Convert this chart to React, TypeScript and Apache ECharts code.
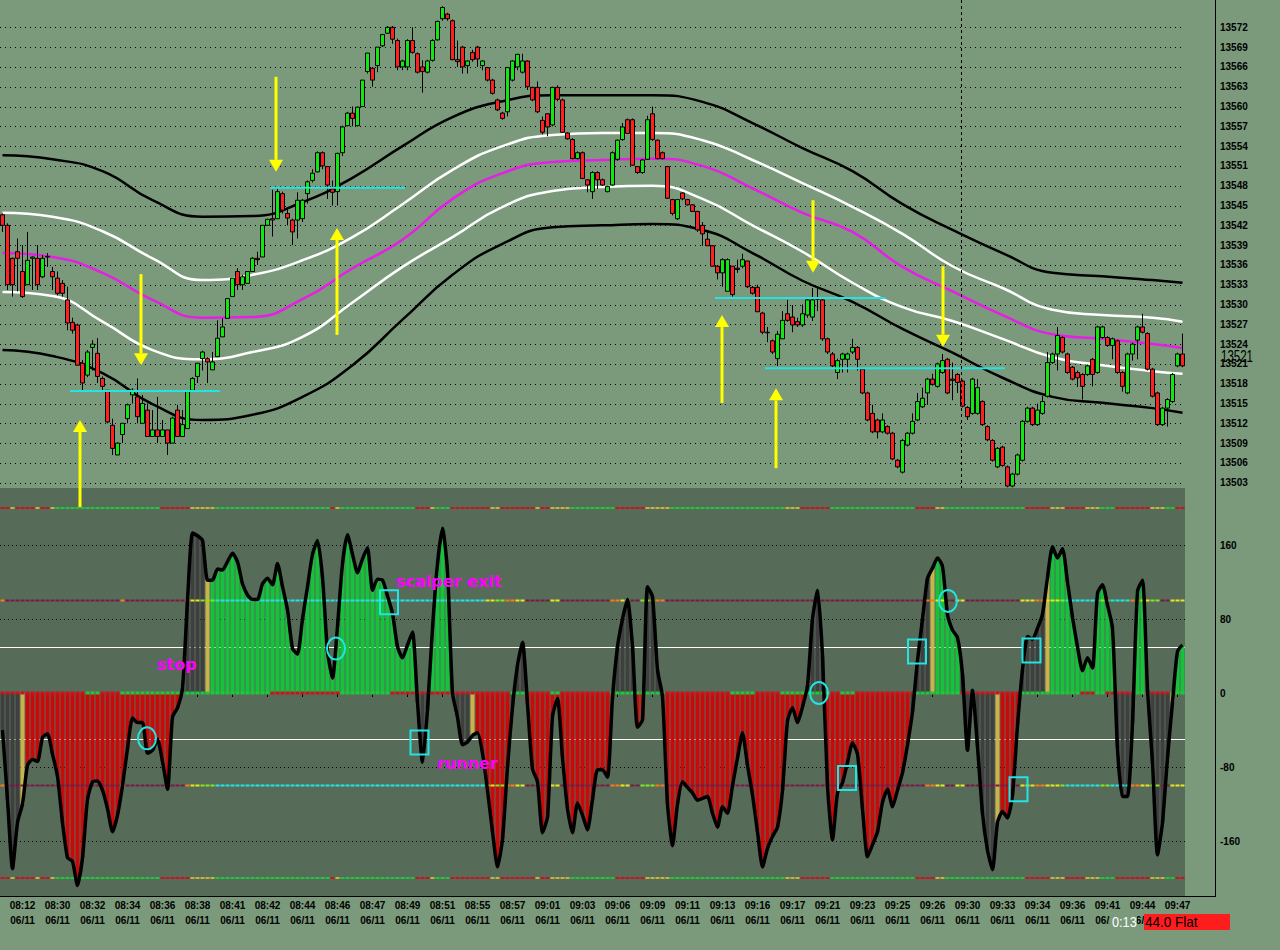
import React, { useEffect, useRef } from "react";
import * as echarts from "echarts";

// ---------- DATA ----------
const timeLabels = ["08:12","08:30","08:32","08:34","08:36","08:38","08:41","08:42","08:44","08:46","08:47","08:49","08:51","08:55","08:57","09:01","09:03","09:06","09:09","09:11","09:13","09:16","09:17","09:21","09:23","09:25","09:26","09:30","09:33","09:34","09:36","09:41","09:44","09:47"];
const dateLabel = "06/11";

const priceTicks = [13503,13506,13509,13512,13515,13518,13521,13524,13527,13530,13533,13536,13539,13542,13545,13548,13551,13554,13557,13560,13563,13566,13569,13572];
const oscTicks = [160, 80, 0, -80, -160];

// [open, close, low, high]
const ohlc: number[][] = [
[13543.6,13542.0,13541.0,13543.8],[13542.0,13533.0,13532.2,13542.3],[13537.0,13533.0,13531.2,13537.1],[13538.0,13537.0,13532.0,13540.0],[13535.0,13531.2,13531.0,13539.0],
[13533.0,13536.7,13533.0,13541.0],[13537.0,13537.2,13532.2,13537.3],[13537.0,13533.0,13532.2,13539.0],[13534.2,13537.0,13534.0,13537.5],[13537.3,13537.2,13535.7,13537.8],
[13535.0,13534.2,13532.2,13535.7],[13534.0,13531.7,13531.4,13535.0],[13533.2,13531.7,13531.2,13533.7],[13530.7,13527.2,13526.1,13532.7],[13527.3,13526.1,13525.6,13528.0],
[13526.9,13520.8,13520.8,13527.1],[13521.1,13518.1,13517.0,13521.6],[13519.3,13522.8,13519.0,13523.1],[13523.5,13524.0,13520.0,13524.6],[13522.6,13519.1,13518.1,13524.9],
[13518.8,13517.6,13517.0,13519.1],[13517.0,13512.2,13512.0,13517.0],[13511.7,13508.2,13507.2,13512.7],[13507.2,13509.0,13507.2,13509.1],[13510.3,13512.0,13509.0,13512.0],
[13512.7,13514.8,13512.0,13515.0],[13516.3,13517.0,13515.0,13517.3],[13516.0,13513.0,13512.0,13518.8],[13512.0,13515.0,13512.0,13516.3],[13514.0,13510.0,13510.0,13515.0],
[13510.0,13511.0,13510.0,13514.0],[13511.0,13510.0,13509.0,13516.0],[13510.0,13511.0,13510.0,13512.5],[13511.0,13509.0,13507.2,13511.0],[13509.0,13512.8,13509.0,13513.0],
[13514.0,13510.0,13510.0,13514.8],[13510.0,13511.8,13510.0,13514.0],[13511.2,13516.8,13511.2,13517.0],[13517.0,13518.8,13517.0,13519.0],[13519.1,13521.1,13518.1,13521.1],
[13521.8,13522.8,13520.0,13523.0],[13521.8,13521.3,13518.1,13522.0],[13520.1,13521.3,13520.1,13522.8],[13522.1,13524.9,13522.1,13527.6],[13525.1,13526.6,13525.1,13527.9],
[13527.9,13530.9,13527.9,13531.0],[13531.2,13534.0,13531.2,13534.0],[13535.0,13533.0,13532.2,13535.5],[13533.0,13534.2,13532.2,13534.5],[13533.2,13535.0,13533.2,13535.0],
[13535.0,13537.0,13535.0,13537.2],[13537.0,13536.8,13536.0,13538.0],[13537.2,13542.0,13537.2,13542.0],[13542.0,13542.9,13542.0,13543.0],[13543.0,13542.8,13540.3,13547.4],
[13543.0,13547.1,13543.0,13547.6],[13546.8,13544.3,13543.8,13547.1],[13543.8,13543.1,13542.0,13544.5],[13542.8,13541.0,13539.0,13543.0],[13542.8,13545.8,13540.0,13547.0],
[13543.0,13545.8,13542.5,13546.0],[13546.8,13548.6,13545.3,13548.8],[13548.8,13549.9,13548.5,13550.5],[13550.1,13553.0,13550.0,13553.2],[13553.0,13551.0,13550.5,13553.2],
[13550.9,13548.1,13546.0,13551.0],[13547.5,13547.0,13545.0,13548.8],[13547.1,13552.9,13545.0,13553.0],[13553.0,13556.9,13552.5,13557.1],[13557.1,13559.0,13557.0,13559.2],
[13559.0,13558.2,13557.0,13560.0],[13557.1,13559.9,13557.0,13560.0],[13560.0,13564.0,13560.0,13564.0],[13565.3,13568.1,13565.0,13568.1],[13565.8,13564.0,13563.0,13566.0],
[13566.2,13569.0,13565.2,13569.0],[13569.2,13570.9,13569.0,13571.0],[13571.1,13572.0,13571.0,13572.2],[13572.0,13570.2,13569.5,13572.2],[13570.0,13566.0,13565.5,13570.3],
[13566.0,13566.9,13565.5,13567.1],[13566.0,13570.0,13565.5,13570.2],[13570.0,13568.2,13568.0,13572.0],[13568.0,13565.2,13565.0,13568.2],[13566.0,13565.3,13562.1,13567.0],
[13565.2,13566.9,13565.0,13567.1],[13567.0,13570.0,13566.8,13570.2],[13570.1,13572.9,13570.0,13573.0],[13573.3,13575.0,13573.0,13575.2],[13574.0,13573.3,13573.0,13574.2],
[13573.0,13567.1,13567.0,13573.2],[13567.1,13566.8,13566.0,13570.0],[13569.0,13566.0,13565.0,13569.2],[13566.2,13566.9,13565.0,13567.0],[13568.2,13567.1,13566.8,13568.6],
[13569.0,13567.2,13566.0,13569.2],[13566.2,13566.9,13565.5,13567.0],[13565.9,13564.0,13563.8,13566.0],[13564.0,13562.0,13561.8,13564.2],[13561.0,13559.5,13559.3,13561.2],
[13559.0,13558.2,13558.0,13559.2],[13559.2,13565.9,13558.5,13566.0],[13564.0,13566.9,13563.8,13567.0],[13566.0,13567.9,13565.5,13568.0],[13565.2,13566.9,13565.0,13568.0],
[13566.9,13563.0,13562.5,13567.0],[13562.9,13561.0,13560.8,13563.0],[13562.9,13559.2,13559.0,13563.8],[13557.9,13556.1,13555.8,13558.5],[13558.9,13556.9,13555.5,13559.0],
[13557.2,13562.9,13557.0,13563.0],[13562.9,13561.1,13560.8,13563.2],[13561.0,13556.1,13556.0,13561.2],[13556.0,13555.1,13555.0,13556.1],[13555.0,13552.1,13552.0,13555.2],
[13552.1,13553.0,13552.0,13553.2],[13553.0,13549.1,13549.0,13553.2],[13548.9,13548.1,13547.0,13549.0],[13547.1,13550.0,13546.0,13550.2],[13550.0,13548.9,13547.5,13550.2],
[13548.9,13548.1,13548.0,13549.1],[13547.1,13547.9,13547.0,13548.0],[13548.1,13553.0,13548.0,13553.2],[13552.0,13554.9,13551.8,13555.0],[13555.0,13556.9,13554.8,13557.5],
[13558.0,13555.9,13555.8,13558.2],[13558.0,13551.1,13551.0,13558.2],[13550.9,13550.0,13549.8,13551.0],[13550.0,13551.9,13549.8,13552.0],[13552.0,13558.0,13551.9,13558.6],
[13558.9,13555.0,13554.8,13560.0],[13554.9,13552.1,13552.0,13555.0],[13553.0,13552.1,13552.0,13553.2],[13550.9,13546.1,13546.0,13551.0],[13545.9,13543.8,13543.5,13546.0],
[13543.0,13545.9,13542.8,13546.0],[13546.9,13546.0,13545.8,13547.0],[13545.9,13545.1,13545.0,13546.0],[13545.1,13544.1,13544.0,13545.2],[13544.1,13541.3,13541.0,13544.2],
[13542.0,13540.7,13538.9,13542.5],[13539.9,13538.9,13538.9,13541.0],[13538.9,13535.8,13535.8,13539.0],[13535.8,13534.8,13533.8,13536.0],[13534.8,13536.8,13532.7,13537.0],
[13532.0,13536.8,13532.0,13537.0],[13535.8,13531.5,13531.2,13535.8],[13535.5,13535.3,13534.8,13536.8],[13535.8,13536.8,13535.5,13537.7],[13536.6,13532.7,13532.5,13536.6],
[13532.6,13531.7,13531.5,13532.8],[13532.6,13528.9,13528.9,13533.0],[13528.7,13525.8,13525.5,13528.9],[13525.8,13525.7,13524.3,13526.6],[13524.5,13522.8,13522.5,13524.7],
[13521.8,13525.5,13520.7,13526.0],[13524.8,13527.6,13524.8,13529.0],[13528.6,13527.6,13527.4,13530.7],[13528.1,13526.9,13525.8,13529.9],[13527.4,13526.9,13526.6,13528.0],
[13526.9,13528.6,13526.6,13530.0],[13528.4,13530.7,13528.0,13531.0],[13528.1,13530.7,13527.5,13532.5],[13530.8,13530.9,13529.0,13532.7],[13530.7,13524.8,13524.5,13531.0],
[13524.8,13522.8,13522.5,13525.0],[13522.5,13520.7,13520.5,13522.8],[13519.7,13521.5,13518.7,13521.8],[13521.7,13522.5,13519.7,13522.7],[13521.7,13522.5,13519.7,13522.7],
[13522.8,13523.5,13522.5,13524.8],[13523.5,13521.7,13520.0,13523.7],[13520.2,13516.6,13516.4,13520.4],[13516.6,13512.5,13512.3,13516.8],[13513.5,13510.7,13510.5,13514.8],
[13512.5,13510.7,13509.7,13512.7],[13510.7,13512.5,13510.5,13513.5],[13511.5,13510.5,13510.3,13511.7],[13510.5,13506.6,13506.4,13510.7],[13506.4,13505.4,13505.2,13506.6],
[13504.6,13509.4,13504.4,13509.6],[13508.7,13510.5,13508.5,13510.7],[13510.5,13512.3,13510.3,13513.5],[13512.5,13515.3,13512.3,13516.6],[13514.5,13515.8,13514.3,13517.4],
[13516.6,13518.7,13514.8,13518.9],[13518.7,13517.9,13517.7,13519.5],[13517.6,13521.0,13517.4,13521.2],[13519.7,13521.5,13519.5,13522.5],[13521.7,13516.6,13516.4,13521.9],
[13518.7,13518.5,13515.5,13521.2],[13519.4,13518.2,13516.6,13519.6],[13518.4,13514.6,13514.4,13518.6],[13514.4,13513.0,13512.5,13514.6],[13513.5,13518.7,13513.3,13518.9],
[13513.5,13517.4,13513.3,13518.7],[13515.3,13511.8,13511.6,13515.5],[13511.5,13509.5,13509.3,13511.7],[13509.4,13506.4,13506.2,13509.6],[13505.4,13508.2,13505.2,13508.4],
[13508.4,13505.6,13505.4,13508.6],[13505.4,13502.5,13502.3,13505.6],[13502.5,13504.3,13502.3,13504.5],[13504.3,13507.2,13504.1,13507.4],[13506.4,13512.3,13506.2,13512.5],
[13512.3,13514.3,13512.1,13514.5],[13514.3,13511.8,13511.6,13514.5],[13511.8,13514.0,13511.6,13515.0],[13513.5,13515.3,13513.3,13516.1],[13516.1,13521.2,13515.9,13522.8],
[13521.2,13522.5,13521.0,13522.7],[13522.5,13525.3,13520.0,13526.6],[13525.0,13522.8,13522.6,13525.2],[13522.5,13519.7,13519.5,13522.7],[13520.5,13518.7,13518.5,13520.7],
[13519.7,13518.9,13517.5,13520.0],[13519.4,13517.6,13515.6,13519.6],[13519.4,13520.7,13519.2,13520.9],[13521.7,13519.4,13517.6,13521.9],[13519.7,13526.6,13519.5,13526.8],
[13525.0,13526.6,13524.8,13526.8],[13525.0,13523.8,13523.6,13525.2],[13523.8,13524.8,13521.7,13525.0],[13524.5,13519.7,13519.5,13524.7],[13519.7,13517.6,13516.8,13519.9],
[13516.6,13522.5,13516.4,13522.7],[13522.5,13524.0,13521.5,13524.2],[13524.6,13526.6,13521.7,13526.8],[13526.6,13525.8,13525.6,13528.6],[13525.6,13520.2,13520.0,13525.8],
[13520.2,13516.1,13515.9,13520.4],[13516.6,13511.8,13511.6,13516.8],[13511.8,13514.3,13511.6,13514.5],[13514.3,13515.6,13511.5,13515.8],[13515.3,13519.4,13515.1,13519.6],
[13520.7,13522.5,13520.5,13522.7],[13522.5,13520.7,13520.5,13525.6]
];

const oscValues = [
-40,-115,-190,-140,-120,-78,-72,-74,-48,-44,
-66,-90,-140,-178,-182,-208,-178,-115,-96,-95,
-105,-125,-150,-132,-100,-60,-27,-32,-32,-65,
-62,-50,-74,-104,-26,-16,5,100,173,170,
165,122,122,134,133,142,151,142,118,106,
101,101,118,124,117,140,115,90,48,42,
80,115,150,165,125,45,16,72,140,171,
150,130,145,157,111,123,122,105,86,50,
38,52,66,-10,-75,-18,70,140,178,132,
0,-26,-56,-53,-46,-43,-65,-105,-150,-188,
-158,-80,-15,30,55,-12,-82,-96,-151,-134,
-25,-6,-70,-125,-151,-119,-132,-148,-115,-83,
-83,-91,-5,50,80,101,50,-37,-29,115,
104,25,-4,-120,-165,-120,-96,-102,-108,-116,
-114,-112,-130,-145,-123,-130,-100,-70,-43,-78,
-110,-150,-188,-168,-155,-145,-105,-30,-16,-32,
-15,8,80,111,40,-100,-159,-108,-97,-75,
-54,-66,-125,-177,-164,-150,-118,-104,-123,-105,
-86,-56,-20,35,80,124,135,146,137,85,
68,60,20,-62,3,-58,-130,-170,-191,-140,
-128,-135,-110,-35,25,61,58,70,85,125,
158,146,156,120,82,50,24,38,27,108,
117,95,70,-60,-112,-112,-32,110,122,3,
-75,-175,-140,-70,-10,45,52
];

// histogram colour states: G trend-up, R trend-down, D neutral, Y transition
const histRuns: [number, number, string][] = [
[0,3,"D"],[4,4,"Y"],[5,35,"R"],[36,40,"D"],[41,41,"Y"],[42,82,"G"],[83,85,"D"],[86,89,"G"],[90,93,"D"],[94,94,"Y"],
[95,101,"R"],[102,104,"D"],[105,122,"R"],[123,126,"D"],[127,128,"R"],[129,132,"D"],[133,160,"R"],[161,164,"D"],[165,181,"R"],
[182,185,"D"],[186,186,"Y"],[187,191,"G"],[192,198,"D"],[199,199,"Y"],[200,203,"R"],[204,208,"D"],[209,209,"Y"],[210,222,"G"],
[223,226,"D"],[227,228,"G"],[229,233,"D"],[234,234,"Y"],[235,236,"G"]
];

// state strips on the oscillator levels
const band200Runs: [number, number, string][] = [
[0,1,"r"],[2,2,"y"],[3,6,"r"],[7,7,"y"],[8,9,"r"],[10,10,"y"],[11,31,"g"],[32,37,"r"],[38,42,"y"],[43,65,"g"],[66,66,"r"],[67,67,"y"],
[68,82,"g"],[83,85,"r"],[86,86,"y"],[87,89,"g"],[90,97,"r"],[98,99,"y"],[100,106,"r"],[107,107,"y"],[108,109,"r"],[110,113,"y"],
[114,122,"g"],[123,128,"r"],[129,133,"y"],[134,156,"g"],[157,159,"y"],[160,165,"r"],[166,182,"g"],[183,186,"r"],[187,188,"y"],
[189,204,"g"],[205,209,"r"],[210,212,"y"],[213,216,"r"],[217,219,"y"],[220,222,"g"],[223,229,"r"],[230,232,"y"],[233,234,"g"],[235,236,"r"]
];
const zeroRuns: [number, number, string][] = [
[0,16,"r"],[17,19,"g"],[20,23,"r"],[24,53,"g"],[54,67,"r"],[68,77,"g"],[78,101,"r"],[102,104,"g"],[105,109,"r"],[110,111,"g"],
[112,121,"r"],[122,132,"g"],[133,145,"r"],[146,150,"g"],[151,155,"r"],[156,165,"g"],[166,167,"r"],[168,170,"g"],[171,182,"r"],
[183,191,"g"],[192,193,"r"],[194,194,"g"],[195,203,"r"],[204,215,"g"],[216,218,"r"],[219,220,"g"],[221,226,"r"],[227,228,"g"],
[229,233,"r"],[234,236,"g"]
];
const band100Runs: [number, number, string][] = [
[0,0,"o"],[1,23,"m"],[24,24,"o"],[25,36,"m"],[37,37,"o"],[38,39,"Y"],[40,42,"L"],[43,96,"c"],[97,98,"Y"],[99,100,"L"],[101,102,"o"],
[103,104,"Y"],[105,109,"m"],[110,111,"Y"],[112,121,"m"],[122,123,"o"],[124,125,"Y"],[126,127,"m"],[128,130,"L"],[131,132,"o"],
[133,184,"m"],[185,186,"o"],[187,188,"Y"],[189,190,"m"],[191,192,"Y"],[193,203,"m"],[204,206,"Y"],[207,208,"o"],[209,211,"Y"],
[212,212,"L"],[213,219,"c"],[220,221,"L"],[222,225,"c"],[226,227,"o"],[228,229,"Y"],[230,231,"L"],[232,233,"m"],[234,236,"Y"]
];

// envelope bands sampled at these bar indices
const bandIdx = [0,10,20,30,40,50,60,70,80,90,100,110,120,130,140,150,160,170,180,190,200,210,220,230,236];
const bandUpperOuter = [13552.6,13552.0,13550.2,13545.8,13543.3,13543.4,13545.5,13549.2,13554.0,13558.4,13560.8,13561.7,13561.7,13561.7,13560.7,13557.5,13553.7,13550.2,13545.2,13541.3,13537.8,13534.8,13534.3,13533.7,13533.3];
const bandUpperInner = [13543.9,13543.3,13541.1,13537.0,13533.7,13534.5,13536.7,13540.2,13545.2,13550.4,13554.0,13555.7,13556.0,13556.0,13554.9,13551.9,13548.4,13544.8,13540.7,13535.8,13532.5,13529.2,13528.4,13528.0,13527.4];
const bandMid = [13537.8,13537.2,13534.8,13530.7,13528.0,13528.1,13530.8,13535.5,13539.8,13546.0,13549.9,13551.6,13551.9,13552.1,13551.0,13547.6,13543.9,13541.0,13535.7,13532.0,13528.4,13525.5,13524.8,13524.0,13523.4];
const bandLowerInner = [13531.9,13531.3,13527.4,13523.1,13521.7,13522.8,13525.1,13530.3,13535.7,13540.2,13544.8,13547.2,13547.8,13548.0,13546.0,13542.0,13538.0,13533.3,13529.6,13527.5,13524.8,13522.0,13520.8,13519.9,13519.5];
const bandLowerOuter = [13523.1,13522.2,13519.6,13514.9,13512.5,13513.3,13516.0,13520.8,13527.7,13534.5,13539.2,13541.7,13542.0,13542.2,13541.3,13537.8,13533.6,13530.4,13526.3,13522.7,13518.9,13516.0,13515.1,13514.3,13513.6];

// [startBar, endBar, price]
const cyanLevels = [[14,43,13516.9],[54,80,13547.7],[143,176,13531.0],[153,200,13520.35]];
// [barPosition, fromPrice, toPrice]
const arrows = [
[27.7,13534.6,13520.8],[54.7,13564.5,13550.1],[162.1,13545.8,13534.8],[188.1,13535.8,13523.6],
[15.5,13499.3,13512.5],[66.9,13525.4,13541.6],[143.9,13515.1,13528.4],[154.7,13505.2,13517.3]
];
const cursorBar = 191.6;
const lastPriceText = "13521";

const oscCircles = [[28.9,-49],[66.7,48],[163.3,0],[189.1,99.5]];
const oscBoxes = [[77.3,98],[83.4,-53.5],[182.9,45],[168.9,-92],[203.2,-104],[205.8,46]];
const oscNoteTexts = ["scalper exit","stop","runner"];
const oscNotePos = [[78.7,121],[30.9,31],[86.9,-76]];
const oscWhiteLevels = [50,-50];
const oscDottedLevels = [160,80,-80,-160];
const stripLevels200 = [200,-200];
const stripLevels100 = [100,-100];

const statusClock = "0:13";
const statusText = "44.0 Flat";

// ---------- STYLE ----------
const PAGE_BG = "#7b9a7b";
const PANEL_BG = "#566c58";
const histPalette: Record<string,string> = { G: "#16c23c", R: "#c80a0a", D: "#3f3f3f", Y: "#c8b44a" };
const stripLetters = "rgymcoYL";
const stripPalette = ["#c8141e","#1ec83c","#c8b43c","#7a1844","#22e4e4","#ff7814","#e6e61e","#86e61e"];
const AXFONT = '"Liberation Sans",Arial,sans-serif';
const PANEL_TOP = 488;
const PANEL_BOTTOM = 896;

const N = ohlc.length;
const categories = ohlc.map((_, i) => String(i));

function runsToCodes(runs: [number, number, string][]) {
  const out: string[] = new Array(N).fill("r");
  runs.forEach(([s, e, c]) => { for (let i = s; i <= e; i++) out[i] = c; });
  return out;
}
const split = (x: number) => [Math.floor(x), x - Math.floor(x)];

function buildOption() {
  const histCodes = runsToCodes(histRuns);
  const c200 = runsToCodes(band200Runs);
  const c0 = runsToCodes(zeroRuns);
  const c100 = runsToCodes(band100Runs);
  const stripData: number[][] = [];
  for (let i = 0; i < N; i++) {
    stripLevels200.forEach((lv) => stripData.push([i, lv, stripLetters.indexOf(c200[i])]));
    stripLevels100.forEach((lv) => stripData.push([i, lv, stripLetters.indexOf(c100[i])]));
    stripData.push([i, 0, stripLetters.indexOf(c0[i])]);
  }

  const bandSeries = (data: number[], color: string, width: number) => ({
    type: "line", xAxisIndex: 0, yAxisIndex: 0, z: 2, silent: true,
    data: bandIdx.map((x, k) => [x, data[k]]),
    smooth: 0.5, symbol: "none", lineStyle: { color, width },
  });

  const levelLine = (dash: number[] | null, color: string) => (params: any, api: any) => {
    const y = Math.round(api.coord([0, api.value(1)])[1]) + 0.5;
    const cs = params.coordSys;
    return { type: "line", shape: { x1: cs.x, y1: y, x2: cs.x + cs.width, y2: y },
      style: { stroke: color, lineWidth: 1, lineDash: dash || undefined } };
  };

  const lowerH = PANEL_BOTTOM - PANEL_TOP;
  const pxPerUnit = 0.925;
  const oscMax = (693 - PANEL_TOP) / pxPerUnit;
  const oscMin = -(PANEL_BOTTOM - 693) / pxPerUnit;

  return {
    animation: false,
    backgroundColor: PAGE_BG,
    grid: [
      { left: 0, top: 0, width: 1185, height: 502.5 },
      { left: 0, top: PANEL_TOP, width: 1185, height: lowerH },
    ],
    xAxis: [
      { type: "category", gridIndex: 0, data: categories, boundaryGap: true, show: false },
      { type: "category", gridIndex: 1, data: categories, boundaryGap: true,
        axisLine: { show: false },
        axisTick: { show: true, length: 4, alignWithLabel: true, interval: (i: number) => i % 7 === 4, lineStyle: { color: "#000" } },
        axisLabel: {
          interval: (i: number) => i % 7 === 4, hideOverlap: false,
          formatter: (_v: string, i: number) => { const k = (i - 4) / 7; return timeLabels[k] ? timeLabels[k] + "\n" + dateLabel : ""; },
          color: "#000", fontFamily: AXFONT, fontWeight: "bold", fontSize: 10, lineHeight: 15, margin: 2,
        },
        splitLine: { show: false } },
    ],
    yAxis: [
      { type: "value", gridIndex: 0, position: "right", offset: 30, min: 13500, max: 13576.14,
        axisLine: { show: false }, axisTick: { show: false }, splitLine: { show: false },
        axisLabel: { customValues: priceTicks, formatter: (v: number) => String(v), color: "#000", fontFamily: AXFONT, fontWeight: "bold", fontSize: 10, margin: 5 } },
      { type: "value", gridIndex: 1, position: "right", offset: 30, min: oscMin, max: oscMax,
        axisLine: { show: false }, axisTick: { show: false }, splitLine: { show: false },
        axisLabel: { customValues: oscTicks, formatter: (v: number) => String(v), color: "#000", fontFamily: AXFONT, fontWeight: "bold", fontSize: 10, margin: 5 } },
    ],
    graphic: { elements: [
      { type: "rect", silent: true, z: -10, shape: { x: 0, y: PANEL_TOP, width: 1185, height: lowerH }, style: { fill: PANEL_BG } },
      { type: "line", silent: true, z: 50, shape: { x1: 1215.5, y1: 0, x2: 1215.5, y2: PANEL_BOTTOM + 1 }, style: { stroke: "#000", lineWidth: 1 } },
      { type: "line", silent: true, z: 50, shape: { x1: 0, y1: PANEL_BOTTOM + 0.5, x2: 1215.5, y2: PANEL_BOTTOM + 0.5 }, style: { stroke: "#000", lineWidth: 1 } },
      { type: "rect", silent: true, z: 60, shape: { x: 1110, y: 912, width: 27, height: 20 }, style: { fill: PAGE_BG } },
      { type: "text", silent: true, z: 61, x: 1112, y: 922, scaleX: 0.85, style: { text: statusClock, fill: "#fff", fontFamily: AXFONT, fontSize: 15, verticalAlign: "middle" } },
      { type: "rect", silent: true, z: 60, shape: { x: 1144, y: 914, width: 86, height: 16 }, style: { fill: "#ff1c1c" } },
      { type: "text", silent: true, z: 61, x: 1145, y: 922, scaleX: 0.9, style: { text: statusText, fill: "#000", fontFamily: AXFONT, fontSize: 15, verticalAlign: "middle" } },
    ] },
    series: [
      // price grid dotted lines
      { type: "custom", xAxisIndex: 0, yAxisIndex: 0, z: 1, silent: true,
        data: priceTicks.map((v) => [0, v]), renderItem: levelLine([1, 4], "#000") },
      bandSeries(bandUpperOuter, "#000000", 2.5),
      bandSeries(bandLowerOuter, "#000000", 2.5),
      bandSeries(bandUpperInner, "#ffffff", 2.5),
      bandSeries(bandLowerInner, "#ffffff", 2.5),
      bandSeries(bandMid, "#e61ee6", 2.5),
      { type: "candlestick", xAxisIndex: 0, yAxisIndex: 0, z: 3, barWidth: 4, data: ohlc,
        itemStyle: { color: "#14e614", color0: "#ff2020", borderColor: "#000", borderColor0: "#000", borderColorDoji: "#000", borderWidth: 1 } },
      // cyan levels
      { type: "custom", xAxisIndex: 0, yAxisIndex: 0, z: 4, silent: true, encode: { x: 0, y: 2 },
        data: cyanLevels,
        renderItem: (_p: any, api: any) => {
          const bw = api.size([1, 0])[0];
          const a = api.coord([api.value(0), api.value(2)]);
          const b = api.coord([api.value(1), api.value(2)]);
          return { type: "line", shape: { x1: a[0] - bw / 2, y1: a[1], x2: b[0] + bw / 2, y2: b[1] }, style: { stroke: "#22e4e4", lineWidth: 2 } };
        } },
      // cursor line
      { type: "custom", xAxisIndex: 0, yAxisIndex: 0, z: 4, silent: true, encode: { x: 0, y: 2 },
        data: [[...split(cursorBar), 13540]],
        renderItem: (params: any, api: any) => {
          const bw = api.size([1, 0])[0];
          const x = Math.round(api.coord([api.value(0), 13540])[0] + api.value(1) * bw) + 0.5;
          return { type: "line", shape: { x1: x, y1: params.coordSys.y, x2: x, y2: PANEL_TOP }, style: { stroke: "#000", lineWidth: 1, lineDash: [3, 3] } };
        } },
      // yellow arrows
      { type: "custom", xAxisIndex: 0, yAxisIndex: 0, z: 6, silent: true, clip: false, encode: { x: 0, y: 2 },
        data: arrows.map(([x, p1, p2]) => [...split(x), p1, p2]),
        renderItem: (_p: any, api: any) => {
          const bw = api.size([1, 0])[0];
          const a = api.coord([api.value(0), api.value(2)]);
          const b = api.coord([api.value(0), api.value(3)]);
          const x = a[0] + api.value(1) * bw;
          const dir = b[1] > a[1] ? 1 : -1;
          const hl = 12, hw = 7;
          return { type: "group", children: [
            { type: "line", shape: { x1: x, y1: a[1], x2: x, y2: b[1] - dir * hl }, style: { stroke: "#ffff00", lineWidth: 3 } },
            { type: "polygon", shape: { points: [[x - hw, b[1] - dir * hl], [x + hw, b[1] - dir * hl], [x, b[1]]] }, style: { fill: "#ffff00" } },
          ] };
        } },
      // last price tag
      { type: "custom", xAxisIndex: 0, yAxisIndex: 0, z: 6, silent: true, clip: false,
        data: [[N - 1, ohlc[N - 1][1]]],
        renderItem: (params: any, api: any) => {
          const p = api.coord([api.value(0), api.value(1)]);
          const cs = params.coordSys;
          return { type: "text", x: cs.x + cs.width + 36, y: p[1] - 10, scaleX: 0.72,
            style: { text: lastPriceText, fill: "#000", fontFamily: AXFONT, fontSize: 16, verticalAlign: "middle" } };
        } },
      // oscillator level lines
      { type: "custom", xAxisIndex: 1, yAxisIndex: 1, z: 1, silent: true,
        data: oscDottedLevels.map((v) => [0, v]), renderItem: levelLine([1, 3], "#000") },
      { type: "custom", xAxisIndex: 1, yAxisIndex: 1, z: 1, silent: true,
        data: oscWhiteLevels.map((v) => [0, v]), renderItem: levelLine(null, "#ffffff") },
      // histogram
      { type: "bar", xAxisIndex: 1, yAxisIndex: 1, z: 2, silent: true, barWidth: 4,
        data: oscValues.map((v, i) => ({ value: v, itemStyle: { color: histPalette[histCodes[i]] } })) },
      // state strips
      { type: "custom", xAxisIndex: 1, yAxisIndex: 1, z: 3, silent: true, data: stripData,
        renderItem: (_p: any, api: any) => {
          const lv = api.value(1);
          const p = api.coord([api.value(0), lv]);
          const bw = api.size([1, 0])[0];
          const h = lv === 0 ? 3 : 2;
          return { type: "rect", shape: { x: p[0] - bw * 0.4, y: p[1] - h / 2, width: bw * 0.8, height: h }, style: { fill: stripPalette[api.value(2)] } };
        } },
      // oscillator line
      { type: "line", xAxisIndex: 1, yAxisIndex: 1, z: 4, silent: true, data: oscValues, symbol: "none",
        smooth: 0.2, lineStyle: { color: "#000", width: 3.5 } },
      // circles
      { type: "custom", xAxisIndex: 1, yAxisIndex: 1, z: 5, silent: true, encode: { x: 0, y: 2 },
        data: oscCircles.map(([x, v]) => [...split(x), v]),
        renderItem: (_p: any, api: any) => {
          const bw = api.size([1, 0])[0];
          const p = api.coord([api.value(0), api.value(2)]);
          return { type: "ellipse", shape: { cx: p[0] + api.value(1) * bw, cy: p[1], rx: 9, ry: 11 }, style: { fill: "none", stroke: "#22e4e4", lineWidth: 2 } };
        } },
      // boxes
      { type: "custom", xAxisIndex: 1, yAxisIndex: 1, z: 5, silent: true, encode: { x: 0, y: 2 },
        data: oscBoxes.map(([x, v]) => [...split(x), v]),
        renderItem: (_p: any, api: any) => {
          const bw = api.size([1, 0])[0];
          const p = api.coord([api.value(0), api.value(2)]);
          const cx = p[0] + api.value(1) * bw;
          return { type: "rect", shape: { x: cx - 9, y: p[1] - 12, width: 18, height: 24 }, style: { fill: "none", stroke: "#22e4e4", lineWidth: 2 } };
        } },
      // notes
      { type: "custom", xAxisIndex: 1, yAxisIndex: 1, z: 6, silent: true, encode: { x: 0, y: 2 },
        data: oscNotePos.map(([x, v], k) => [...split(x), v, k]),
        renderItem: (_p: any, api: any) => {
          const bw = api.size([1, 0])[0];
          const p = api.coord([api.value(0), api.value(2)]);
          return { type: "text", x: p[0] + api.value(1) * bw, y: p[1],
            style: { text: oscNoteTexts[api.value(3)], fill: "#ff00ff", fontFamily: '"DejaVu Sans",sans-serif', fontWeight: "bold", fontSize: 16, verticalAlign: "middle", align: "left" } };
        } },
    ],
  };
}

export default function App() {
  const ref = useRef<HTMLDivElement>(null);
  useEffect(() => {
    const chart = echarts.init(ref.current!, null, { renderer: "svg" });
    chart.setOption(buildOption() as any);
    return () => chart.dispose();
  }, []);
  return <div ref={ref} style={{ position: "absolute", left: 0, top: 0, width: 1280, height: 950 }} />;
}
